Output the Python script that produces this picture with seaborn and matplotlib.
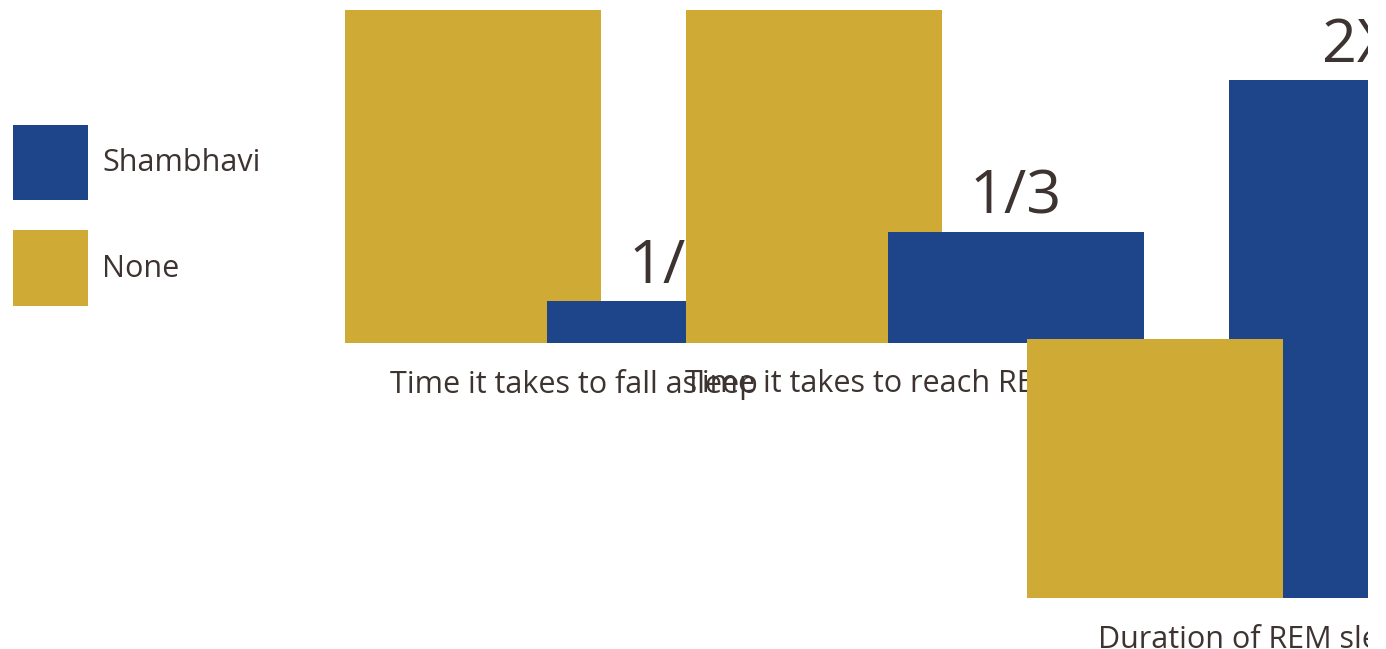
import matplotlib
matplotlib.use("Agg")
import matplotlib.pyplot as plt
import seaborn as sns
import pandas as pd
from matplotlib.patches import Patch
from matplotlib.transforms import Bbox, TransformedBbox

# ---- data ----
categories = ["Time it takes to fall asleep", "Time it takes to reach REM sleep", "Duration of REM sleep"]
series = ["None", "Shambhavi"]
none_values = [8, 3, 1]
shambhavi_values = [1, 1, 2]
annotations = ["1/8", "1/3", "2X"]

BLUE = "#1e448a"
GOLD = "#cfab35"
TEXT = "#3d3431"

sns.set_theme(style="white")
plt.rcParams["font.family"] = ["Open Sans", "DejaVu Sans"]

W, H = 1386, 649
fig = plt.figure(figsize=(W / 100, H / 100), dpi=100)

# layout in pixels: (left, baseline, height of tallest bar)
layout = [(345, 343, 333), (686, 343, 333), (1027, 598, 518)]
bar_w_px, step_px = 256, 202
rel_w = bar_w_px / step_px
axes_w_px = bar_w_px + step_px

LABEL_FS = 22
clip = TransformedBbox(Bbox([[0, 0], [1368 / W, 1]]), fig.transFigure)

for i, cat in enumerate(categories):
    left, base, hpx = layout[i]
    ax = fig.add_axes([left / W, 1 - base / H, axes_w_px / W, hpx / H])
    ax.patch.set_visible(False)
    df = pd.DataFrame({"series": series, "value": [none_values[i], shambhavi_values[i]]})
    sns.barplot(data=df, x="series", y="value", hue="series", order=series,
                hue_order=series, palette=[GOLD, BLUE], width=rel_w, dodge=False,
                saturation=1, linewidth=0, legend=False, ax=ax)
    ax.set_xlim(-rel_w / 2, 1 + rel_w / 2)
    ax.set_ylim(0, max(none_values[i], shambhavi_values[i]))
    for s in ax.spines.values():
        s.set_visible(False)
    ax.set_xticks([])
    ax.set_yticks([])
    ax.set_ylabel("")
    ax.set_xlabel(cat, fontsize=LABEL_FS, color=TEXT, labelpad=19)
    # stacking: the shorter bar sits on top
    pats = ax.patches
    if shambhavi_values[i] > none_values[i]:
        pats[0].set_zorder(3); pats[1].set_zorder(2)
    else:
        pats[0].set_zorder(2); pats[1].set_zorder(3)
    t = ax.annotate(annotations[i], xy=(1, shambhavi_values[i]), xytext=(0, 13),
                    textcoords="offset points", ha="center", va="baseline",
                    fontsize=44, color=TEXT, annotation_clip=False)
    for a in list(pats) + [t, ax.xaxis.label]:
        a.set_clip_box(clip)
        a.set_clip_on(True)

fs_px = LABEL_FS * 100 / 72
fig.legend(handles=[Patch(facecolor=BLUE, edgecolor="none", label="Shambhavi"),
                    Patch(facecolor=GOLD, edgecolor="none", label="None")],
           loc="upper left", bbox_to_anchor=(13 / W, 1 - 125 / H), frameon=False,
           fontsize=LABEL_FS, labelcolor=TEXT, handlelength=75 / fs_px,
           handleheight=75 / (0.717 * fs_px),
           labelspacing=30 / fs_px, handletextpad=14 / fs_px, borderpad=0, borderaxespad=0)

fig.savefig("out.png", dpi=100)
